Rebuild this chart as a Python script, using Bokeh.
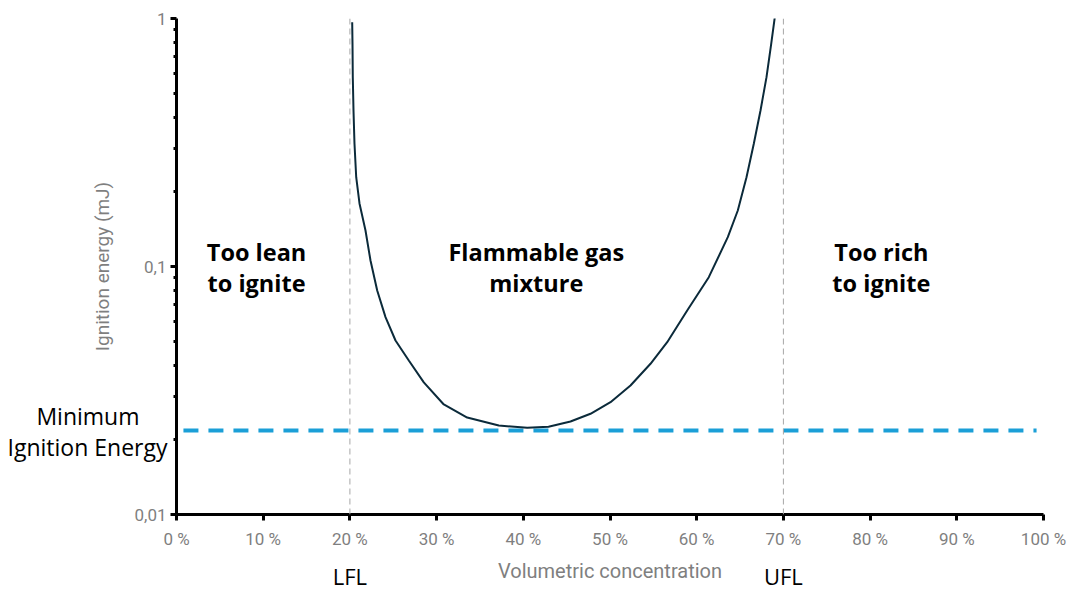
from bokeh.plotting import figure
from bokeh.models import Span, Label, FixedTicker, Range1d, LinearAxis
from bokeh.embed import file_html
from bokeh.resources import INLINE

# ---- data ----
conc_pct = [20.265, 20.300, 20.334, 20.415, 20.530, 20.727, 21.107, 21.799, 22.376, 23.149,
            24.106, 25.260, 26.794, 28.524, 30.830, 33.529, 37.174, 40.450, 42.910, 45.444,
            47.751, 50.058, 52.364, 54.671, 56.597, 58.904, 61.396, 63.587, 64.740, 65.744,
            66.586, 67.359, 68.051, 68.593, 69.008]
energy_mj = [0.9662, 0.7906, 0.5799, 0.4256, 0.3124, 0.2291, 0.1795, 0.1397, 0.1057, 0.0800,
             0.0625, 0.0503, 0.0418, 0.0341, 0.02777, 0.02461, 0.02285, 0.02237, 0.02258, 0.02371,
             0.02547, 0.02837, 0.03313, 0.04052, 0.04952, 0.06647, 0.09055, 0.1313, 0.1682, 0.2291,
             0.3124, 0.4256, 0.5799, 0.7906, 1.0121]
mie_mj = 0.0218
mie_x = [0.8, 99.2]
lfl_pct = 20
ufl_pct = 70
mie_text_y = [0.02506, 0.0188]
mie_text = ["Minimum", "Ignition Energy"]

x_ticks = [0, 10, 20, 30, 40, 50, 60, 70, 80, 90, 100]
x_tick_labels = ["0 %", "10 %", "20 %", "30 %", "40 %", "50 %", "60 %", "70 %", "80 %", "90 %", "100 %"]
y_ticks = [0.01, 0.1, 1]
y_tick_labels = ["0,01", "0,1", "1"]
y_minor = [m * d for d in (0.01, 0.1) for m in range(2, 10)]

GRAY = "#7f7f7f"
TICK_FONT = "Roboto"
ANN_FONT = "Open Sans"

p = figure(width=1068, height=592, y_axis_type="log",
           x_range=Range1d(0, 100), y_range=Range1d(0.01, 1),
           output_backend="svg", toolbar_location=None,
           min_border_left=176, min_border_right=25,
           min_border_top=18, min_border_bottom=78)
p.outline_line_color = None
p.xgrid.visible = False
p.ygrid.visible = False
p.background_fill_color = "white"
p.border_fill_color = "white"

# ---- main x axis ----
xa = p.xaxis[0]
xa.ticker = FixedTicker(ticks=x_ticks)
xa.major_label_overrides = dict(zip(x_ticks, x_tick_labels))
xa.axis_line_width = 3
xa.axis_line_color = "black"
xa.major_tick_line_width = 3
xa.major_tick_line_color = "black"
xa.major_tick_out = 6
xa.major_tick_in = 0
xa.minor_tick_line_color = None
xa.minor_tick_out = 0
xa.major_label_text_color = GRAY
xa.major_label_text_font = TICK_FONT
xa.major_label_text_font_size = "17px"
xa.major_label_standoff = 8

# ---- second bottom axis: LFL / UFL marks and the axis title ----
xb = LinearAxis(ticker=FixedTicker(ticks=[lfl_pct, ufl_pct]),
                major_label_overrides={lfl_pct: "LFL", ufl_pct: "UFL"})
xb.axis_line_color = None
xb.major_tick_line_color = None
xb.minor_tick_line_color = None
xb.major_tick_out = 0
xb.minor_tick_out = 0
xb.major_label_text_color = "black"
xb.major_label_text_font = ANN_FONT
xb.major_label_text_font_size = "22px"
xb.major_label_standoff = 9
xb.axis_label = "Volumetric concentration"
xb.axis_label_text_color = GRAY
xb.axis_label_text_font = TICK_FONT
xb.axis_label_text_font_size = "20px"
xb.axis_label_text_font_style = "normal"
xb.axis_label_standoff = -35
p.add_layout(xb, "below")

# ---- main y axis ----
ya = p.yaxis[0]
ya.ticker = FixedTicker(ticks=y_ticks, minor_ticks=y_minor)
ya.major_label_overrides = dict(zip(y_ticks, y_tick_labels))
ya.axis_line_width = 3
ya.axis_line_color = "black"
ya.major_tick_line_width = 3
ya.major_tick_line_color = "black"
ya.major_tick_out = 6
ya.major_tick_in = 0
ya.minor_tick_line_width = 3
ya.minor_tick_line_color = "black"
ya.minor_tick_out = 3
ya.minor_tick_in = 0
ya.major_label_text_color = GRAY
ya.major_label_text_font = TICK_FONT
ya.major_label_text_font_size = "17px"
ya.major_label_standoff = 4
ya.axis_label = "Ignition energy (mJ)"
ya.axis_label_text_color = GRAY
ya.axis_label_text_font = TICK_FONT
ya.axis_label_text_font_size = "19px"
ya.axis_label_text_font_style = "normal"
ya.axis_label_standoff = 17


def text_axis(tick, label, standoff):
    ax = LinearAxis(ticker=FixedTicker(ticks=[tick]), major_label_overrides={tick: label})
    ax.axis_line_color = None
    ax.major_tick_line_color = None
    ax.minor_tick_line_color = None
    ax.major_tick_out = 0
    ax.minor_tick_out = 0
    ax.major_label_text_color = "black"
    ax.major_label_text_font = ANN_FONT
    ax.major_label_text_font_size = "23px"
    ax.major_label_standoff = standoff
    p.add_layout(ax, "left")


# "Minimum Ignition Energy" label next to the frame
text_axis(mie_text_y[1], mie_text[1], -79)
text_axis(mie_text_y[0], mie_text[0], -135)

# LFL / UFL guides
for xv in (lfl_pct, ufl_pct):
    p.add_layout(Span(location=xv, dimension="height", line_color="#a6a6a6",
                      line_width=1, line_dash="6 4"))

# MIE line
p.line(mie_x, [mie_mj, mie_mj], line_color="#1b9fd7", line_width=4, line_dash="15 10")

# curve
p.line(conc_pct, energy_mj, line_color="#0b2a3a", line_width=2)

for cx, l1, l2 in ((9.23, "Too lean", "to ignite"),
                   (41.5, "Flammable gas", "mixture"),
                   (81.3, "Too rich", "to ignite")):
    for yy, t in ((0.1139, l1), (0.0854, l2)):
        p.add_layout(Label(x=cx, y=yy, text=t, text_align="center", text_baseline="middle",
                           text_font=ANN_FONT, text_font_size="23.5px",
                           text_font_style="bold", text_color="black"))

open("out.html", "w").write(file_html(p, INLINE))
